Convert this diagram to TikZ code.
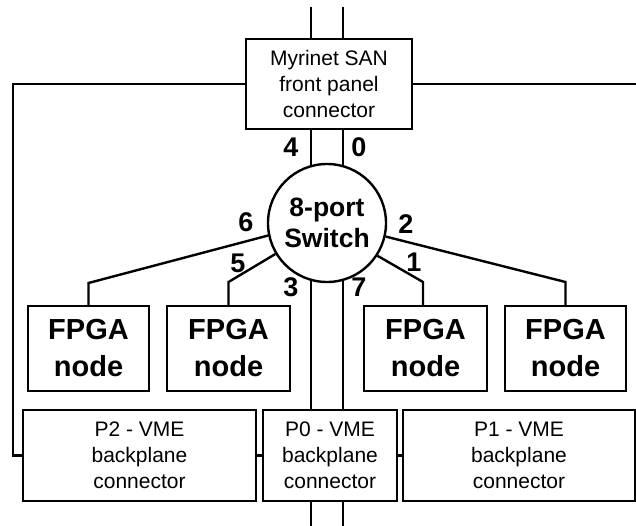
\documentclass[tikz,border=0pt]{standalone}
\usepackage{fontspec}
\setmainfont{Liberation Sans}
\pgfdeclarelayer{background}
\pgfsetlayers{background,main}
\begin{document}
\begin{tikzpicture}[x=1pt,y=-1pt,
  line width=2.4pt,
  box/.style={draw,fill=white,inner sep=0pt,align=center},
  conn/.style={box,font=\fontsize{21}{26}\selectfont},
  fpga/.style={box,minimum height=85pt,font=\bfseries\fontsize{29}{37}\selectfont},
  port/.style={font=\bfseries\fontsize{27}{27}\selectfont,inner sep=0pt},
  wire/.style={line width=2.4pt}]
\useasboundingbox (0,0) rectangle (636,526);

% Myrinet front panel connector and the switch
\node[conn,minimum width=166pt,minimum height=90pt] (myr) at (329,84)
  {Myrinet SAN\\front panel\\connector};
\node[draw,fill=white,circle,minimum size=118pt,inner sep=0pt,align=center,
  font=\bfseries\fontsize{26.5}{31}\selectfont] (sw) at (327,223) {8-port\\Switch};

% FPGA nodes
\node[fpga,minimum width=121pt] (f1) at (88.5,348.5) {FPGA\\node};
\node[fpga,minimum width=123pt] (f2) at (228.5,348.5) {FPGA\\node};
\node[fpga,minimum width=123pt] (f3) at (425.5,348.5) {FPGA\\node};
\node[fpga,minimum width=121pt] (f4) at (565.5,348.5) {FPGA\\node};

% VME backplane connectors
\node[conn,minimum width=233pt,minimum height=91pt] (p2) at (139.5,455.5)
  {P2 - VME\\backplane\\connector};
\node[conn,minimum width=134pt,minimum height=91pt] (p0) at (330,455.5)
  {P0 - VME\\backplane\\connector};
\node[conn,minimum width=232pt,minimum height=91pt] (p1) at (519,455.5)
  {P1 - VME\\backplane\\connector};

% free ends of the wires
\coordinate (ta) at (311,7);
\coordinate (tb) at (343,7);
\coordinate (ba) at (311,527);
\coordinate (bb) at (343,527);
\coordinate (lc) at (13,270);
\coordinate (rc) at (637,84);
\coordinate (j6) at (88.5,283);
\coordinate (j5) at (228.5,282);
\coordinate (j1) at (423,282);
\coordinate (j2) at (565.5,282);

\begin{pgfonlayer}{background}
  % Myrinet links through the switch to the P0 connector
  \draw[wire] (ta) -- (ta |- myr.north);
  \draw[wire] (tb) -- (tb |- myr.north);
  \draw[wire] (ta |- myr.south) -- (ta |- p0.north);
  \draw[wire] (tb |- myr.south) -- (tb |- p0.north);
  \draw[wire] (ta |- p0.south) -- (ba);
  \draw[wire] (tb |- p0.south) -- (bb);
  % side links
  \draw[wire] (myr.west) -| (lc) |- (p2.west);
  \draw[wire] (myr.east) -- (rc);
  \draw[wire] (p2.east) -- (p0.west);
  \draw[wire] (p0.east) -- (p1.west);
  % switch ports to FPGA nodes
  \draw[wire] (sw.192) -- (j6) -- (f1.north);
  \draw[wire] (sw.211.6) -- (j5) -- (f2.north);
  \draw[wire] (sw.327) -- (j1) -- (j1 |- f3.north);
  \draw[wire] (sw.347) -- (j2) -- (f4.north);
\end{pgfonlayer}

% port numbers
\node[port] (n4) at (291,147) {4};
\node[port] (n0) at (359,147) {0};
\node[port] (n6) at (246,222) {6};
\node[port] (n5) at (238,263) {5};
\node[port] (n3) at (291,287) {3};
\node[port] (n2) at (406,224) {2};
\node[port] (n1) at (414,262) {1};
\node[port] (n7) at (359,287) {7};
\end{tikzpicture}
\end{document}
